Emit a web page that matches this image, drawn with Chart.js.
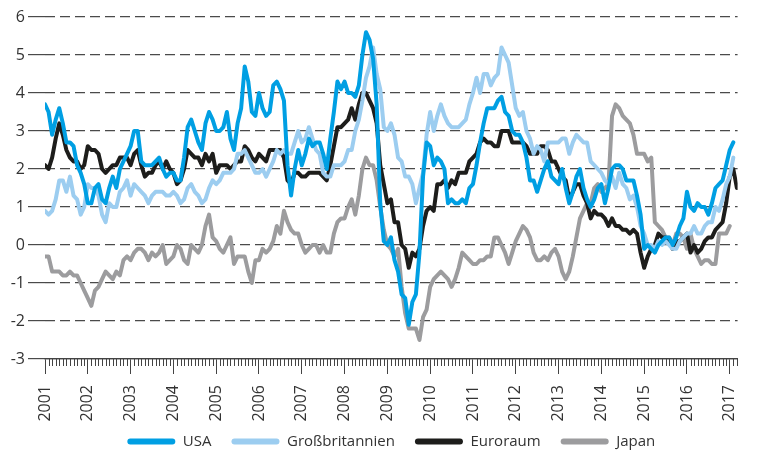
<!DOCTYPE html>
<html lang="de">
<head>
  <meta charset="UTF-8" />
  <title>Inflation</title>
  <script src="https://cdn.jsdelivr.net/npm/chart.js"></script>
  <style>
    html, body { margin: 0; padding: 0; background: #fff; }
    #wrap { width: 760px; height: 455px; }
  </style>
</head>
<body>
<div id="wrap"><canvas id="chart"></canvas></div>
<script>
  // monthly values, first entry = Jan 2001
  const startYear = 2001;
  const seriesNames = ['USA', 'Großbritannien', 'Euroraum', 'Japan'];
  const seriesColors = ['#009fe3', '#9ccdf0', '#1d1d1b', '#9c9c9e'];

  const usa = [
    3.7, 3.5, 2.9, 3.3, 3.6, 3.2, 2.7, 2.7, 2.6, 2.1, 1.9, 1.6,
    1.1, 1.1, 1.5, 1.6, 1.2, 1.1, 1.5, 1.8, 1.5, 2.0, 2.2, 2.4,
    2.6, 3.0, 3.0, 2.2, 2.1, 2.1, 2.1, 2.2, 2.3, 2.0, 1.8, 1.9,
    1.9, 1.7, 1.7, 2.3, 3.1, 3.3, 3.0, 2.7, 2.5, 3.2, 3.5, 3.3,
    3.0, 3.0, 3.1, 3.5, 2.8, 2.5, 3.2, 3.6, 4.7, 4.3, 3.5, 3.4,
    4.0, 3.6, 3.4, 3.5, 4.2, 4.3, 4.1, 3.8, 2.1, 1.3, 2.0, 2.5,
    2.1, 2.4, 2.8, 2.6, 2.7, 2.7, 2.4, 2.0, 2.8, 3.5, 4.3, 4.1,
    4.3, 4.0, 4.0, 3.9, 4.2, 5.0, 5.6, 5.4, 4.9, 3.7, 1.1, 0.1,
    0.0, 0.2, -0.4, -0.7, -1.3, -1.4, -2.1, -1.5, -1.3, -0.2, 1.8, 2.7,
    2.6, 2.1, 2.3, 2.2, 2.0, 1.1, 1.2, 1.1, 1.1, 1.2, 1.1, 1.5,
    1.6, 2.1, 2.7, 3.2, 3.6, 3.6, 3.6, 3.8, 3.9, 3.5, 3.4, 3.0,
    2.9, 2.9, 2.7, 2.3, 1.7, 1.7, 1.4, 1.7, 2.0, 2.2, 1.8, 1.7,
    1.6, 2.0, 1.5, 1.1, 1.4, 1.8, 2.0, 1.5, 1.2, 1.0, 1.2, 1.5,
    1.6, 1.1, 1.5, 2.0, 2.1, 2.1, 2.0, 1.7, 1.7, 1.7, 1.3, 0.8,
    -0.1, 0.0, -0.1, -0.2, 0.0, 0.1, 0.2, 0.2, 0.0, 0.2, 0.5, 0.7,
    1.4, 1.0, 0.9, 1.1, 1.0, 1.0, 0.8, 1.1, 1.5, 1.6, 1.7, 2.1,
    2.5, 2.7
  ];

  const uk = [
    0.9, 0.8, 0.9, 1.2, 1.7, 1.7, 1.4, 1.8, 1.3, 1.2, 0.8, 1.0,
    1.6, 1.5, 1.5, 1.3, 0.8, 0.6, 1.1, 1.0, 1.0, 1.4, 1.5, 1.7,
    1.3, 1.6, 1.5, 1.4, 1.3, 1.1, 1.3, 1.4, 1.4, 1.4, 1.3, 1.3,
    1.4, 1.3, 1.1, 1.2, 1.5, 1.6, 1.4, 1.3, 1.1, 1.2, 1.5, 1.7,
    1.6, 1.7, 1.9, 1.9, 1.9, 2.0, 2.4, 2.4, 2.5, 2.3, 2.1, 1.9,
    1.9, 2.0, 1.8, 2.0, 2.2, 2.5, 2.4, 2.5, 2.4, 2.4, 2.7, 3.0,
    2.7, 2.8, 3.1, 2.8, 2.5, 2.4, 1.9, 1.8, 1.8, 2.1, 2.1, 2.1,
    2.2, 2.5, 2.5, 3.0, 3.3, 3.8, 4.4, 4.7, 5.2, 4.5, 4.1, 3.1,
    3.0, 3.2, 2.9, 2.3, 2.2, 1.8, 1.8, 1.6, 1.1, 1.5, 1.9, 2.9,
    3.5, 3.0, 3.4, 3.7, 3.4, 3.2, 3.1, 3.1, 3.1, 3.2, 3.3, 3.7,
    4.0, 4.4, 4.0, 4.5, 4.5, 4.2, 4.4, 4.5, 5.2, 5.0, 4.8, 4.2,
    3.6, 3.4, 3.5, 3.0, 2.8, 2.4, 2.6, 2.5, 2.2, 2.7, 2.7, 2.7,
    2.7, 2.8, 2.8, 2.4, 2.7, 2.9, 2.8, 2.7, 2.7, 2.2, 2.1, 2.0,
    1.9, 1.7, 1.6, 1.8, 1.5, 1.9, 1.6, 1.5, 1.2, 1.3, 1.0, 0.5,
    0.3, 0.0, 0.0, -0.1, 0.1, 0.0, 0.1, 0.0, -0.1, -0.1, 0.1, 0.2,
    0.3, 0.3, 0.5, 0.3, 0.3, 0.5, 0.6, 0.6, 1.0, 0.9, 1.2, 1.6,
    1.8, 2.3
  ];

  const euro = [
    2.1, 2.0, 2.3, 2.8, 3.2, 2.9, 2.5, 2.3, 2.2, 2.2, 2.0, 2.1,
    2.6, 2.5, 2.5, 2.4, 2.0, 1.9, 2.0, 2.1, 2.1, 2.3, 2.3, 2.3,
    2.1, 2.4, 2.5, 2.1, 1.8, 1.9, 1.9, 2.1, 2.2, 2.0, 2.2, 2.0,
    1.9, 1.6, 1.7, 2.0, 2.5, 2.4, 2.3, 2.3, 2.1, 2.4, 2.2, 2.4,
    1.9, 2.1, 2.1, 2.1, 2.0, 2.1, 2.2, 2.2, 2.6, 2.5, 2.3, 2.2,
    2.4, 2.3, 2.2, 2.5, 2.5, 2.5, 2.5, 2.3, 1.7, 1.6, 1.9, 1.9,
    1.8, 1.8, 1.9, 1.9, 1.9, 1.9, 1.8, 1.7, 2.1, 2.6, 3.1, 3.1,
    3.2, 3.3, 3.6, 3.3, 3.7, 4.0, 4.0, 3.8, 3.6, 3.2, 2.1, 1.6,
    1.1, 1.2, 0.6, 0.6, 0.0, -0.1, -0.6, -0.2, -0.3, -0.1, 0.5, 0.9,
    1.0, 0.9, 1.6, 1.6, 1.7, 1.5, 1.7, 1.6, 1.9, 1.9, 1.9, 2.2,
    2.3, 2.4, 2.7, 2.8, 2.7, 2.7, 2.6, 2.6, 3.0, 3.0, 3.0, 2.7,
    2.7, 2.7, 2.7, 2.6, 2.4, 2.4, 2.4, 2.6, 2.6, 2.5, 2.2, 2.2,
    2.0, 1.8, 1.7, 1.2, 1.4, 1.6, 1.6, 1.3, 1.1, 0.7, 0.9, 0.8,
    0.8, 0.7, 0.5, 0.7, 0.5, 0.5, 0.4, 0.4, 0.3, 0.4, 0.3, -0.2,
    -0.6, -0.3, -0.1, 0.0, 0.3, 0.2, 0.2, 0.1, -0.1, 0.1, 0.1, 0.2,
    0.3, -0.2, 0.0, -0.2, -0.1, 0.1, 0.2, 0.2, 0.4, 0.5, 0.6, 1.1,
    1.8, 2.0, 1.5
  ];

  const japan = [
    -0.3, -0.3, -0.7, -0.7, -0.7, -0.8, -0.8, -0.7, -0.8, -0.8, -1.0, -1.2,
    -1.4, -1.6, -1.2, -1.1, -0.9, -0.7, -0.8, -0.9, -0.7, -0.8, -0.4, -0.3,
    -0.4, -0.2, -0.1, -0.1, -0.2, -0.4, -0.2, -0.3, -0.2, 0.0, -0.5, -0.4,
    -0.3, 0.0, -0.1, -0.4, -0.5, 0.0, -0.1, -0.2, 0.0, 0.5, 0.8, 0.2,
    0.1, -0.1, -0.2, 0.0, 0.2, -0.5, -0.3, -0.3, -0.3, -0.7, -1.0, -0.4,
    -0.4, -0.1, -0.2, -0.1, 0.1, 0.5, 0.3, 0.9, 0.6, 0.4, 0.3, 0.3,
    0.0, -0.2, -0.1, 0.0, 0.0, -0.2, 0.0, -0.2, -0.2, 0.3, 0.6, 0.7,
    0.7, 1.0, 1.2, 0.8, 1.3, 2.0, 2.3, 2.1, 2.1, 1.7, 1.0, 0.4,
    0.0, -0.1, -0.3, -0.1, -1.1, -1.8, -2.2, -2.2, -2.2, -2.5, -1.9, -1.7,
    -1.1, -0.9, -0.8, -0.7, -0.8, -0.9, -1.1, -0.9, -0.6, -0.2, -0.3, -0.4,
    -0.5, -0.5, -0.4, -0.4, -0.3, -0.3, 0.2, 0.2, 0.0, -0.2, -0.5, -0.2,
    0.1, 0.3, 0.5, 0.4, 0.2, -0.2, -0.4, -0.4, -0.3, -0.4, -0.2, -0.1,
    -0.3, -0.7, -0.9, -0.7, -0.3, 0.2, 0.7, 0.9, 1.1, 1.1, 1.5, 1.6,
    1.4, 1.5, 1.6, 3.4, 3.7, 3.6, 3.4, 3.3, 3.2, 2.9, 2.4, 2.4,
    2.4, 2.2, 2.3, 0.6, 0.5, 0.4, 0.2, 0.2, 0.0, 0.3, 0.3, 0.2,
    -0.1, 0.3, -0.1, -0.3, -0.5, -0.4, -0.4, -0.5, -0.5, 0.3, 0.3, 0.3,
    0.5
  ];

  const yMin = -3, yMax = 6;
  const xMin = 2001, xMax = 2017 + 2.2 / 12;
  const lastMonth = 194; // Mar 2017

  const toPoints = arr => arr.map((v, i) => ({ x: startYear + i / 12, y: v }));
  const allSeries = [usa, uk, euro, japan];

  Chart.defaults.font.family = "'Open Sans', sans-serif";
  Chart.defaults.font.size = 16;
  Chart.defaults.color = '#3a3a3a';

  // small monthly ticks under the x axis
  const monthTicks = {
    id: 'monthTicks',
    afterLayout(chart) {
      // the year labels hang a bit into the legend box, don't clip them
      chart.scales.x.bottom += 14;
    },
    afterDraw(chart) {
      const xs = chart.scales.x;
      const ctx = chart.ctx;
      const y0 = chart.chartArea.bottom;
      ctx.save();
      ctx.strokeStyle = '#444';
      ctx.lineWidth = 1;
      for (let m = 1; m <= lastMonth; m++) {
        if (m % 12 === 0) continue;
        const x = Math.round(xs.getPixelForValue(startYear + m / 12)) + 0.5;
        ctx.beginPath();
        ctx.moveTo(x, y0);
        ctx.lineTo(x, y0 + 7);
        ctx.stroke();
      }
      ctx.restore();
    }
  };

  new Chart(document.getElementById('chart'), {
    type: 'line',
    data: {
      datasets: allSeries.map((arr, i) => ({
        label: seriesNames[i],
        data: toPoints(arr),
        borderColor: seriesColors[i],
        backgroundColor: seriesColors[i],
        borderWidth: 4,
        pointRadius: 0,
        tension: 0,
        borderJoinStyle: 'round',
        borderCapStyle: 'round',
        fill: false
      }))
    },
    options: {
      responsive: true,
      maintainAspectRatio: false,
      animation: false,
      layout: { padding: { top: 17, right: 5, left: 0, bottom: -4 } },
      plugins: {
        tooltip: { enabled: false },
        legend: {
          position: 'bottom',
          fullSize: false,
          labels: {
            boxWidth: 48,
            boxHeight: 6,
            useBorderRadius: true,
            borderRadius: 3,
            padding: 20,
            color: '#333',
            font: { size: 15 },
            generateLabels(chart) {
              return Chart.defaults.plugins.legend.labels.generateLabels(chart)
                .map(l => Object.assign(l, { lineWidth: 0 }));
            }
          }
        }
      },
      scales: {
        x: {
          type: 'linear',
          min: xMin,
          max: xMax,
          afterFit(scale) { scale.height = 55; },
          grid: {
            drawOnChartArea: false,
            drawTicks: true,
            tickLength: 15,
            color: '#444',
            lineWidth: 1
          },
          border: { display: true, color: '#444', width: 1.3 },
          ticks: {
            stepSize: 1,
            includeBounds: false,
            autoSkip: false,
            minRotation: 90,
            maxRotation: 90,
            padding: 11,
            color: '#333',
            callback: v => String(v)
          }
        },
        y: {
          min: yMin,
          max: yMax,
          afterFit(scale) { scale.width = 45; },
          grid: {
            color: '#4a4a4a',
            lineWidth: 1.2,
            tickLength: 17,
            drawTicks: true
          },
          border: {
            display: false,
            dash: ctx => (ctx.tick && ctx.tick.value === yMin) ? [] : [10, 5]
          },
          ticks: {
            stepSize: 1,
            padding: 3,
            color: '#333'
          }
        }
      }
    },
    plugins: [monthTicks]
  });
</script>
</body>
</html>
